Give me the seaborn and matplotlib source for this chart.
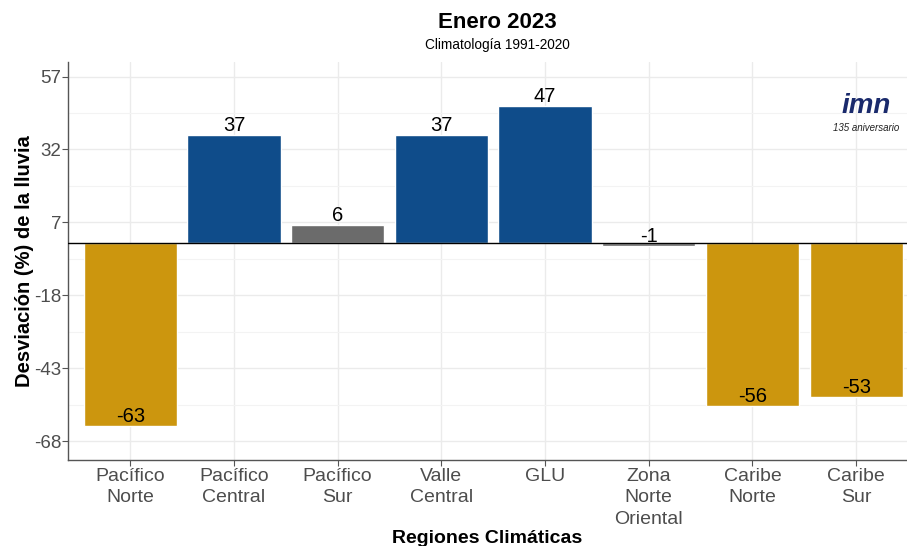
import matplotlib
matplotlib.use("Agg")
import matplotlib.pyplot as plt
import seaborn as sns
import pandas as pd

regions = ["Pacífico\nNorte", "Pacífico\nCentral", "Pacífico\nSur", "Valle\nCentral",
           "GLU", "Zona\nNorte\nOriental", "Caribe\nNorte", "Caribe\nSur"]
values = [-63, 37, 6, 37, 47, -1, -56, -53]
bar_colors = ["#CC960E", "#0F4C8A", "#6B6B6B", "#0F4C8A", "#0F4C8A", "#6B6B6B", "#CC960E", "#CC960E"]
yticks = [57, 32, 7, -18, -43, -68]
minor_ticks = [44.5, 19.5, -5.5, -30.5, -55.5]

sns.set_theme(style="white")
plt.rcParams["font.family"] = ["Liberation Sans", "DejaVu Sans"]
plt.rcParams["axes.unicode_minus"] = False

df = pd.DataFrame({"region": regions, "value": values})

fig = plt.figure(figsize=(9.07, 5.46), dpi=100)
ax = fig.add_axes([68 / 907, 1 - 460 / 546, 1 - 68 / 907, (460 - 62) / 546])

sns.barplot(data=df, x="region", y="value", hue="region", palette=bar_colors,
            legend=False, width=0.9, saturation=1, ax=ax, zorder=3)

ax.set_xlim(-0.6, 7.49)
ax.set_ylim(-74.5, 62)
ax.set_yticks(yticks)
ax.set_yticks(minor_ticks, minor=True)
ax.grid(True, which="major", color="#EBEBEB", linewidth=1.0, zorder=0)
ax.grid(True, which="minor", axis="y", color="#F3F3F3", linewidth=0.8, zorder=0)
ax.set_axisbelow(True)

ax.axhline(0, color="black", linewidth=1.0, zorder=4)

for i, v in enumerate(values):
    ax.text(i, v, f"{v}", ha="center", va="bottom", fontsize=14.5, color="black", zorder=5)

for s in ["top", "right"]:
    ax.spines[s].set_visible(False)
for s in ["left", "bottom"]:
    ax.spines[s].set_color("#555555")
    ax.spines[s].set_linewidth(1.0)

ax.tick_params(axis="x", which="major", labelsize=14, labelcolor="#4D4D4D",
               color="#555555", length=4, width=0.8, bottom=True, pad=1.5)
ax.tick_params(axis="y", which="major", labelsize=13.5, labelcolor="#4D4D4D",
               color="#555555", length=4, width=0.8, left=True, pad=1.0)
ax.tick_params(axis="y", which="minor", length=0)
for lab in ax.get_xticklabels():
    lab.set_linespacing(1.35)

ax.set_xlabel("Regiones Climáticas", fontsize=14, fontweight="bold", color="black")
ax.xaxis.set_label_coords(0.5, -0.175)
ax.set_ylabel("Desviación (%) de la lluvia", fontsize=14.5, fontweight="bold", color="black")
ax.yaxis.set_label_coords(-0.041, 0.5)

fig.text(0.548, 0.958, "Enero 2023", ha="center", va="center", fontsize=16, fontweight="bold",
         color="black")
fig.text(0.548, 0.917, "Climatología 1991-2020", ha="center", va="center", fontsize=9.8,
         color="black")

# logo approximation
fig.text(0.955, 0.805, "imn", ha="center", va="center", fontsize=20, fontweight="bold",
         style="italic", color="#1A2A6C")
fig.text(0.955, 0.765, "135 aniversario", ha="center", va="center", fontsize=7,
         style="italic", color="#222222")

fig.savefig("out.png", dpi=100)
